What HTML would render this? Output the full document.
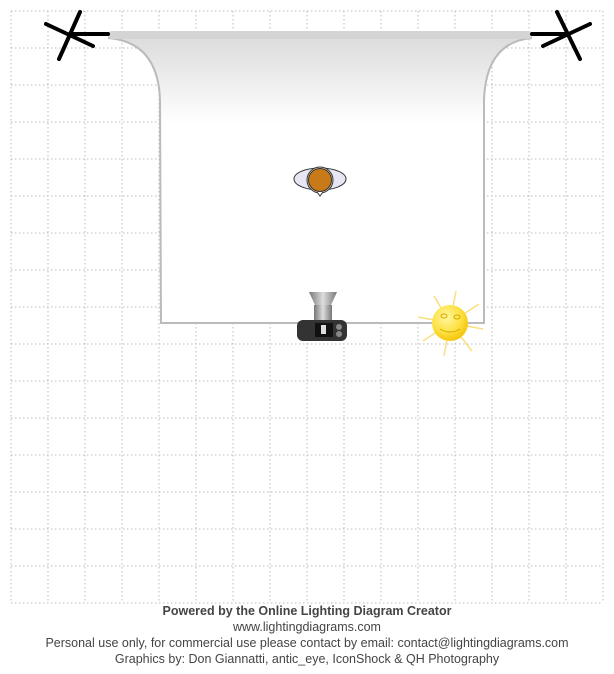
<!DOCTYPE html>
<html><head><style>
body{margin:0;background:#fff;width:614px;height:674px;overflow:hidden;font-family:"Liberation Sans",Arial,sans-serif}
.t{position:absolute;left:0;width:614px;text-align:center;color:#444;font-size:12.5px}
</style></head><body>
<svg width="614" height="674" style="position:absolute;left:0;top:0">
<defs>
<linearGradient id="bg" x1="0" y1="0" x2="0" y2="1"><stop offset="0" stop-color="#dcdcdc"/><stop offset="0.3" stop-color="#fff"/><stop offset="1" stop-color="#fff"/></linearGradient>
<linearGradient id="lens" x1="0" x2="1"><stop offset="0" stop-color="#777"/><stop offset="0.5" stop-color="#ddd"/><stop offset="1" stop-color="#777"/></linearGradient>
<radialGradient id="sun" cx="0.4" cy="0.35" r="0.7"><stop offset="0" stop-color="#fff7a0"/><stop offset="0.6" stop-color="#fde040"/><stop offset="1" stop-color="#f5c000"/></radialGradient>
</defs>
<g stroke="#bbb" stroke-width="1" stroke-dasharray="1.5,2.5">
<line x1="11" y1="11" x2="11" y2="603"/><line x1="48" y1="11" x2="48" y2="603"/><line x1="85" y1="11" x2="85" y2="603"/><line x1="122" y1="11" x2="122" y2="603"/><line x1="159" y1="11" x2="159" y2="603"/><line x1="196" y1="11" x2="196" y2="603"/><line x1="233" y1="11" x2="233" y2="603"/><line x1="270" y1="11" x2="270" y2="603"/><line x1="307" y1="11" x2="307" y2="603"/><line x1="344" y1="11" x2="344" y2="603"/><line x1="381" y1="11" x2="381" y2="603"/><line x1="418" y1="11" x2="418" y2="603"/><line x1="455" y1="11" x2="455" y2="603"/><line x1="492" y1="11" x2="492" y2="603"/><line x1="529" y1="11" x2="529" y2="603"/><line x1="566" y1="11" x2="566" y2="603"/><line x1="603" y1="11" x2="603" y2="603"/>
<line y1="11" x1="11" y2="11" x2="603"/><line y1="48" x1="11" y2="48" x2="603"/><line y1="85" x1="11" y2="85" x2="603"/><line y1="122" x1="11" y2="122" x2="603"/><line y1="159" x1="11" y2="159" x2="603"/><line y1="196" x1="11" y2="196" x2="603"/><line y1="233" x1="11" y2="233" x2="603"/><line y1="270" x1="11" y2="270" x2="603"/><line y1="307" x1="11" y2="307" x2="603"/><line y1="344" x1="11" y2="344" x2="603"/><line y1="381" x1="11" y2="381" x2="603"/><line y1="418" x1="11" y2="418" x2="603"/><line y1="455" x1="11" y2="455" x2="603"/><line y1="492" x1="11" y2="492" x2="603"/><line y1="529" x1="11" y2="529" x2="603"/><line y1="566" x1="11" y2="566" x2="603"/><line y1="603" x1="11" y2="603" x2="603"/>
</g>
<path d="M108,38 Q158,42 160,100 L161,323 L484,323 L484,100 Q486,42 532,38 Z" fill="url(#bg)" stroke="#bbb" stroke-width="2"/>
<rect x="108" y="31" width="424" height="8" rx="4" fill="#d4d4d4"/>
<g stroke="#000" stroke-width="4" stroke-linecap="round">
<line x1="70" y1="34" x2="108" y2="34"/><line x1="46" y1="24" x2="93" y2="46"/><line x1="80" y1="12" x2="59" y2="59"/>
<line x1="568" y1="34" x2="532" y2="34"/><line x1="590" y1="24" x2="543" y2="46"/><line x1="557" y1="12" x2="580" y2="59"/>
</g>
<ellipse cx="320" cy="179" rx="26" ry="11" fill="#e8e6f4" stroke="#333"/>
<circle cx="320" cy="180" r="13" fill="#f5e6c8" stroke="#333"/>
<circle cx="320" cy="180" r="11.5" fill="#c87a18" stroke="#333"/>
<path d="M317,192 L320,196 L323,192" fill="#fff" stroke="#333"/>
<path d="M309,292 L337,292 L331,305 L315,305 Z" fill="url(#lens)"/>
<rect x="314" y="305" width="18" height="18" fill="url(#lens)"/>
<rect x="297" y="320" width="50" height="21" rx="6" fill="#333"/>
<rect x="315" y="323" width="18" height="14" fill="#111"/>
<rect x="321" y="325" width="5" height="9" fill="#ddd"/>
<circle cx="339" cy="327" r="3" fill="#888"/><circle cx="339" cy="334" r="3" fill="#888"/>
<g stroke="#f8e080" stroke-width="1.5">
<line x1="450" y1="323" x2="418" y2="317"/><line x1="450" y1="323" x2="434" y2="296"/><line x1="450" y1="323" x2="456" y2="291"/><line x1="450" y1="323" x2="479" y2="304"/><line x1="450" y1="323" x2="483" y2="329"/><line x1="450" y1="323" x2="472" y2="351"/><line x1="450" y1="323" x2="444" y2="356"/><line x1="450" y1="323" x2="423" y2="341"/>
</g>
<circle cx="450" cy="323" r="18" fill="url(#sun)"/>
<g fill="none" stroke="#d8a800" stroke-width="1"><ellipse cx="444" cy="316" rx="3" ry="2"/><ellipse cx="457" cy="317" rx="3" ry="2"/><path d="M440,329 Q450,335 460,329"/></g>
</svg>
<div class="t" style="top:604px;font-weight:bold">Powered by the Online Lighting Diagram Creator</div>
<div class="t" style="top:620px">www.lightingdiagrams.com</div>
<div class="t" style="top:636px">Personal use only, for commercial use please contact by email: contact@lightingdiagrams.com</div>
<div class="t" style="top:652px">Graphics by: Don Giannatti, antic_eye, IconShock &amp; QH Photography</div>
</body></html>
